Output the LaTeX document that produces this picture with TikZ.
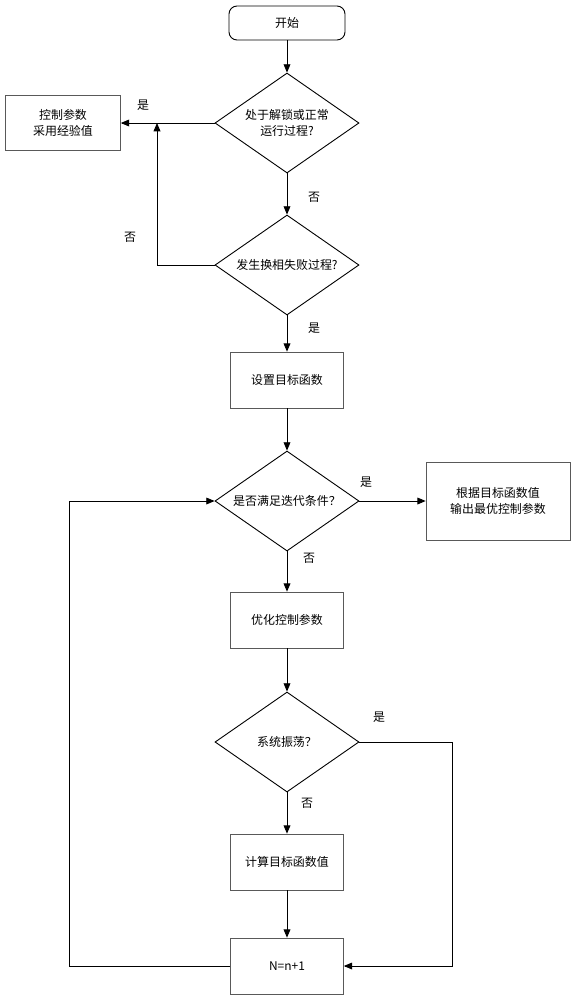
\documentclass[tikz,border=0pt]{standalone}
\usepackage{fontspec}
\setmainfont{Noto Sans CJK SC}
\usepackage{tikz}
\usepackage{xcolor}
\usetikzlibrary{shapes, arrows, calc, positioning}
\definecolor{boxgrey}{rgb}{0.35, 0.35, 0.35}

\begin{document}
\begin{tikzpicture}[x=1bp, y=-1bp, font=\fontsize{12}{16}\selectfont, >=triangle 45]
        \useasboundingbox (0, 0) rectangle (576, 1000);

        \tikzstyle{b} = [draw=boxgrey, line width=0.7bp, minimum width=113bp, minimum height=56bp, align=center];
        \tikzstyle{d} = [draw, diamond, aspect=1.44, minimum width=144bp, minimum height=100bp, inner sep=0pt, line width=0.9bp, align=center];
        \tikzstyle{s} = [draw, rounded corners=8bp, minimum width=116bp, minimum height=34bp, line width=0.9bp];
        \tikzstyle{l} = [draw, ->, line width=0.9bp];

        \node [s] (start) at (287, 23) {开始};
        \node [d] (lock) at (287, 123) {处于解锁或正常\\运行过程?};
        \node [b, minimum width=115bp, minimum height=55bp] (empir) at (63, 123) {控制参数\\采用经验值};
        \node [d] (fail) at (287, 265) {发生换相失败过程?};
        \node [b] (target) at (287, 380) {设置目标函数};
        \node [d] (iter) at (287, 501) {是否满足迭代条件？};
        \node [b, minimum width=144bp, minimum height=78bp] (output) at (498, 501) {根据目标函数值\\输出最优控制参数};
        \node [b] (optim) at (287, 620) {优化控制参数};
        \node [d] (osc) at (287, 742) {系统振荡？};
        \node [b] (calc) at (287, 862) {计算目标函数值};
        \node [b] (count) at (287, 966) {N=n+1};

        \coordinate (J) at (157, 123);
        \coordinate (F) at (157, 265);
        \coordinate (R1) at (452, 742);
        \coordinate (R2) at (452, 966);
        \coordinate (L1) at (69, 966);
        \coordinate (L2) at (69, 501);

        % main column
        \draw [l] (start) -- (lock);
        \draw [l] (lock) -- (fail);
        \draw [l] (fail) -- (target);
        \draw [l] (target) -- (iter);
        \draw [l] (iter) -- (optim);
        \draw [l] (optim) -- (osc);
        \draw [l] (osc) -- (calc);
        \draw [l] (calc) -- (count);

        % side branches
        \draw [l] (lock.west) -- (empir.east);
        \draw [l] (fail.west) -- (F) -- (J);
        \draw [l] (iter.east) -- (output.west);
        \draw [l] (osc.east) -- (R1) -- (R2) -- (count.east);
        \draw [l] (count.west) -- (L1) -- (L2) -- (iter.west);

        % labels
        \node (y1) at (143, 105) {是};
        \node (n1) at (314, 197) {否};
        \node (n2) at (130, 237) {否};
        \node (y2) at (314, 328) {是};
        \node (y3) at (366, 482) {是};
        \node (n3) at (309, 558) {否};
        \node (y4) at (379, 717) {是};
        \node (n4) at (307, 803) {否};
    \end{tikzpicture}
\end{document}
